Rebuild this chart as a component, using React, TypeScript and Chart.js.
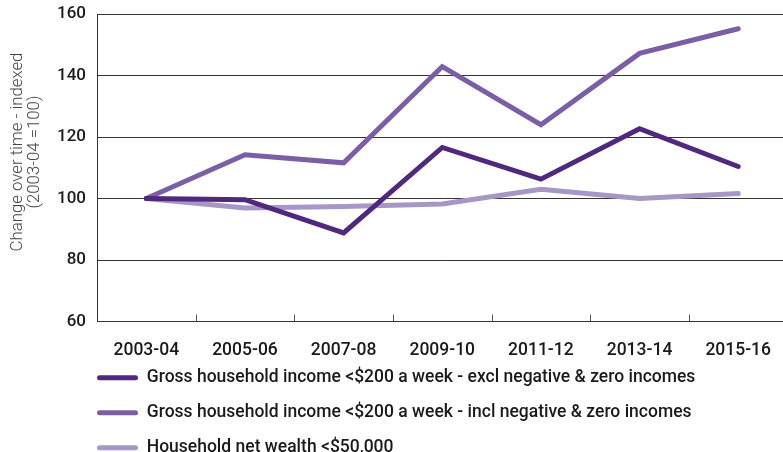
import React, { useEffect, useRef } from "react";
import { Chart, registerables } from "chart.js";

Chart.register(...registerables);

const categories = ["2003-04", "2005-06", "2007-08", "2009-10", "2011-12", "2013-14", "2015-16"];
const exclNegZero = [100, 99.6, 88.8, 116.6, 106.3, 122.7, 110.4];
const inclNegZero = [100, 114.2, 111.6, 142.9, 124.0, 147.2, 155.2];
const netWealth = [100, 96.9, 97.4, 98.2, 103.0, 100.0, 101.6];
const seriesLabels = [
  "Gross household income <$200 a week - excl negative & zero incomes",
  "Gross household income <$200 a week - incl negative & zero incomes",
  "Household net wealth <$50,000",
];
const seriesColors = ["#50297f", "#7a5fa6", "#a797c6"];
const yTitle = ["Change over time - indexed", "(2003-04 =100)"];
const FONT = "Roboto, 'DejaVu Sans', sans-serif";

const innerTicks = {
  id: "innerTicks",
  afterDatasetsDraw(chart: any) {
    const x = chart.scales.x;
    const { ctx, chartArea } = chart;
    const n = x.ticks.length;
    ctx.save();
    ctx.strokeStyle = "#555";
    ctx.lineWidth = 1;
    for (let i = 1; i < n; i++) {
      const px = Math.round((x.getPixelForTick(i - 1) + x.getPixelForTick(i)) / 2) + 0.5;
      ctx.beginPath();
      ctx.moveTo(px, chartArea.bottom);
      ctx.lineTo(px, chartArea.bottom - 7);
      ctx.stroke();
    }
    ctx.restore();
  },
};

const yTitlePlugin = {
  id: "yTitlePlugin",
  afterDraw(chart: any) {
    const { ctx } = chart;
    ctx.save();
    ctx.fillStyle = "#444";
    ctx.font = `300 16.8px ${FONT}`;
    ctx.textAlign = "center";
    ctx.textBaseline = "middle";
    const cy = 152;
    yTitle.forEach((line, i) => {
      ctx.save();
      ctx.translate(18 + i * 17, cy);
      ctx.rotate(-Math.PI / 2);
      ctx.fillText(line, 0, 0);
      ctx.restore();
    });
    ctx.restore();
  },
};

const legendPlace = {
  id: "legendPlace",
  afterLayout(chart: any) {
    const l = chart.legend;
    if (!l) return;
    const pad = l.options.labels.padding;
    const dx = chart.chartArea.left - pad - l.left;
    l.left += dx;
    l.right += dx;
    const dy = 369 - pad - l.top;
    l.top += dy;
    l.bottom += dy;
  },
};

const PLOT_BOTTOM = 321.5;

export default function App() {
  const ref = useRef<HTMLCanvasElement>(null);
  useEffect(() => {
    if (!ref.current) return;
    const chart = new Chart(ref.current, {
      type: "line",
      data: {
        labels: categories,
        datasets: [exclNegZero, inclNegZero, netWealth].map((d, i) => ({
          label: seriesLabels[i],
          data: d,
          borderColor: seriesColors[i],
          backgroundColor: seriesColors[i],
          borderWidth: 5,
          pointRadius: 0,
          tension: 0,
          borderCapStyle: "round" as const,
          borderJoinStyle: "miter" as const,
          fill: false,
        })),
      },
      options: {
        responsive: false,
        animation: false,
        devicePixelRatio: 1,
        layout: { padding: { top: 14, left: 0, right: 0, bottom: 0 } },
        plugins: {
          tooltip: { enabled: false },
          legend: {
            position: "bottom",
            align: "start",
            labels: {
              font: { family: FONT, size: 17.5, weight: 500 as any },
              color: "#1a1a1a",
              boxWidth: 41,
              boxHeight: 5,
              padding: 17.5,
              generateLabels: (c: any) =>
                c.data.datasets.map((ds: any, i: number) => ({
                  text: ds.label,
                  fillStyle: ds.borderColor,
                  strokeStyle: ds.borderColor,
                  lineWidth: 0,
                  borderRadius: 2.5,
                  fontColor: "#1a1a1a",
                  datasetIndex: i,
                  hidden: false,
                })),
            },
          },
        },
        scales: {
          x: {
            offset: true,
            grid: { display: false, drawTicks: false },
            border: { display: true, color: "#333", width: 1 },
            ticks: { font: { family: FONT, size: 17.5, weight: 500 as any }, color: "#1a1a1a", padding: 19, maxRotation: 0, autoSkip: false },
            afterFit: (s: any) => {
              const lg = s.chart.legend;
              const lh = lg && lg.height ? lg.height : 0;
              s.height = Math.max(10, s.chart.height - lh - PLOT_BOTTOM);
            },
          },
          y: {
            min: 60,
            max: 160,
            ticks: { stepSize: 20, font: { family: FONT, size: 17, weight: 500 as any }, color: "#1a1a1a", padding: 11 },
            grid: { color: "#333", lineWidth: 1, drawTicks: false },
            border: { display: true, color: "#333", width: 1 },
            title: { display: false },
            afterFit: (s: any) => {
              s.width = 97;
              s.paddingTop = 0;
              s.paddingBottom = 0;
            },
          },
        },
      },
      plugins: [innerTicks, legendPlace, yTitlePlugin],
    });
    return () => chart.destroy();
  }, []);
  return (
    <div style={{ position: "absolute", left: 0, top: 0, width: 783, height: 452, overflow: "hidden", background: "#fff" }}>
      <canvas ref={ref} width={790} height={520} style={{ display: "block" }} />
    </div>
  );
}
